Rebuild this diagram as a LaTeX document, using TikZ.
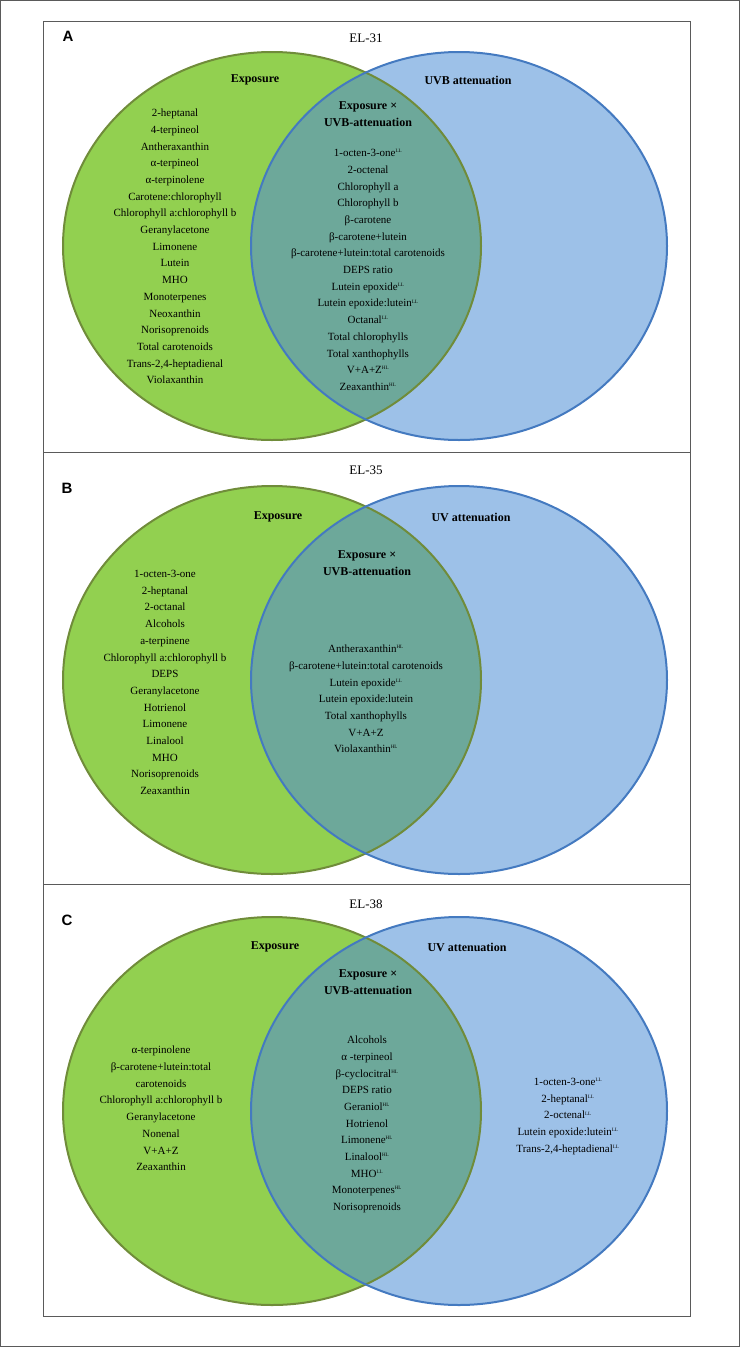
\documentclass[tikz,border=0pt]{standalone}
\usepackage{fontspec}
\setmainfont{Liberation Serif}
\setsansfont{Liberation Sans}
\usepackage{xcolor}

\definecolor{cexp}{RGB}{146,208,80}
\definecolor{cexpline}{RGB}{112,140,58}
\definecolor{cuvb}{RGB}{157,193,232}
\definecolor{cuvbline}{RGB}{68,122,192}
\definecolor{cboth}{RGB}{109,168,154}
\definecolor{cframe}{RGB}{90,90,90}

\newcommand{\LLm}{\textsuperscript{\tiny LL}}
\newcommand{\HLm}{\textsuperscript{\tiny HL}}
% one pair of circles, #1 = y of the circle centres
\newcommand{\vennpair}[1]{%
  \fill[cexp] (272,#1) ellipse [x radius=209, y radius=194];
  \fill[cuvb] (459,#1) ellipse [x radius=208, y radius=194];
  \begin{scope}
    \clip (272,#1) ellipse [x radius=209, y radius=194];
    \fill[cboth] (459,#1) ellipse [x radius=208, y radius=194];
  \end{scope}
  \draw[cexpline,line width=2pt] (272,#1) ellipse [x radius=209, y radius=194];
  \draw[cuvbline,line width=2pt] (459,#1) ellipse [x radius=208, y radius=194];
}

\tikzset{
  txt/.style={align=center, inner sep=0pt, font=\fontsize{11}{16.7}\selectfont},
  head/.style={align=center, inner sep=0pt, font=\fontsize{12}{17}\selectfont\bfseries},
  title/.style={inner sep=0pt, font=\fontsize{13}{15}\selectfont},
  letter/.style={inner sep=0pt, font=\fontsize{15}{15}\selectfont\sffamily\bfseries},
  panel/.style={draw=cframe, line width=0.8pt}
}

\begin{document}
\begin{tikzpicture}[x=1pt,y=-1pt]
\useasboundingbox (0,0) rectangle (740,1347);
\draw[cframe,line width=0.8pt] (0.5,0.5) rectangle (739.5,1346.5);
%
% panel A
\draw[panel] (43,21) rectangle (690,452);
\vennpair{246}
\node[letter] (la) at (68,36) {A};
\node[title] (ta) at (366,38) {EL-31};
\node[head] (ea) at (255,80) {Exposure};
\node[head] (ua) at (468,80) {UVB attenuation};
\node[head] (ha) at (368,114.5) {Exposure ×\\UVB-attenuation};
\node[txt] (ga) at (175,246.5) {2-heptanal\\4-terpineol\\Antheraxanthin\\α-terpineol\\α-terpinolene\\Carotene:chlorophyll\\Chlorophyll a:chlorophyll b\\Geranylacetone\\Limonene\\Lutein\\MHO\\Monoterpenes\\Neoxanthin\\Norisoprenoids\\Total carotenoids\\Trans-2,4-heptadienal\\Violaxanthin};
\node[txt] (ia) at (368,270) {1-octen-3-one\LLm\\2-octenal\\Chlorophyll a\\Chlorophyll b\\β-carotene\\β-carotene+lutein\\β-carotene+lutein:total carotenoids\\DEPS ratio\\Lutein epoxide\LLm\\Lutein epoxide:lutein\LLm\\Octanal\LLm\\Total chlorophylls\\Total xanthophylls\\V+A+Z\HLm\\Zeaxanthin\HLm};
%
% panel B
\draw[panel] (43,452) rectangle (690,884);
\vennpair{680}
\node[letter] (lb) at (67,488) {B};
\node[title] (tb) at (366,470) {EL-35};
\node[head] (eb) at (278,517) {Exposure};
\node[head] (ub) at (471,517) {UV attenuation};
\node[head] (hb) at (367,563.5) {Exposure ×\\UVB-attenuation};
\node[txt] (gb) at (165,682.5) {1-octen-3-one\\2-heptanal\\2-octanal\\Alcohols\\a-terpinene\\Chlorophyll a:chlorophyll b\\DEPS\\Geranylacetone\\Hotrienol\\Limonene\\Linalool\\MHO\\Norisoprenoids\\Zeaxanthin};
\node[txt] (ib) at (366,699) {Antheraxanthin\HLm\\β-carotene+lutein:total carotenoids\\Lutein epoxide\LLm\\Lutein epoxide:lutein\\Total xanthophylls\\V+A+Z\\Violaxanthin\HLm};
%
% panel C
\draw[panel] (43,884) rectangle (690,1316);
\vennpair{1111}
\node[letter] (lc) at (67,920) {C};
\node[title] (tc) at (366,904) {EL-38};
\node[head] (ec) at (275,947) {Exposure};
\node[head] (uc) at (467,947) {UV attenuation};
\node[head] (hc) at (368,982.5) {Exposure ×\\UVB-attenuation};
\node[txt] (gc) at (161,1108.5) {α-terpinolene\\β-carotene+lutein:total\\carotenoids\\Chlorophyll a:chlorophyll b\\Geranylacetone\\Nonenal\\V+A+Z\\Zeaxanthin};
\node[txt] (ic) at (367,1124.5) {Alcohols\\α -terpineol\\β-cyclocitral\HLm\\DEPS ratio\\Geraniol\HLm\\Hotrienol\\Limonene\HLm\\Linalool\HLm\\MHO\LLm\\Monoterpenes\HLm\\Norisoprenoids};
\node[txt] (bc) at (568,1116.5) {1-octen-3-one\LLm\\2-heptanal\LLm\\2-octenal\LLm\\Lutein epoxide:lutein\LLm\\Trans-2,4-heptadienal\LLm};
%
\end{tikzpicture}
\end{document}
